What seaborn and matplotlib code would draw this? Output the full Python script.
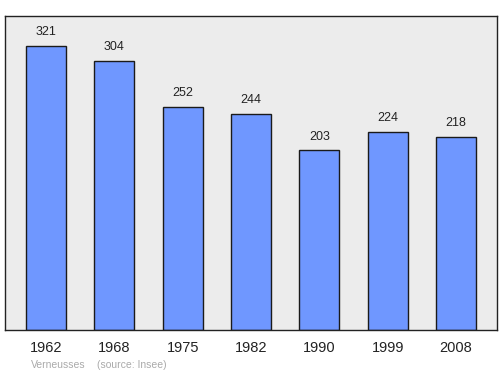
import matplotlib
matplotlib.use("Agg")
import matplotlib.pyplot as plt
import seaborn as sns
import pandas as pd

years = ["1962", "1968", "1975", "1982", "1990", "1999", "2008"]
population = [321, 304, 252, 244, 203, 224, 218]
commune = "Verneusses"
source = "(source: Insee)"

df = pd.DataFrame({"year": years, "pop": population})

sns.set_style("white")
plt.rcParams['font.family'] = ['Liberation Sans', 'DejaVu Sans']

fig = plt.figure(figsize=(5, 3.74), dpi=100)
ax = fig.add_axes([0.01, 0.1176, 0.984, 0.8395])
ax.set_facecolor("#ececec")

sns.barplot(data=df, x="year", y="pop", ax=ax, color="#6f97ff", saturation=1,
            width=0.585, edgecolor="#1a1a1a", linewidth=1.0)

for i, v in enumerate(population):
    ax.text(i, v + 9, str(v), ha="center", va="bottom", fontsize=9, color="#222222")

ax.set_xlim(-0.6, 6.6)
ax.set_ylim(0, 355)
ax.set_yticks([])
ax.set_xlabel("")
ax.set_ylabel("")
ax.tick_params(axis="x", length=0, pad=8, labelsize=10.5, labelcolor="#222222")
for s in ax.spines.values():
    s.set_color("#222222")
    s.set_linewidth(1.0)

fig.text(31 / 500, 1 - 365 / 374, commune, fontsize=7.5, color="#aaaaaa", va="center")
fig.text(97 / 500, 1 - 365 / 374, source, fontsize=7.5, color="#aaaaaa", va="center")

fig.savefig("out.png", dpi=100)
